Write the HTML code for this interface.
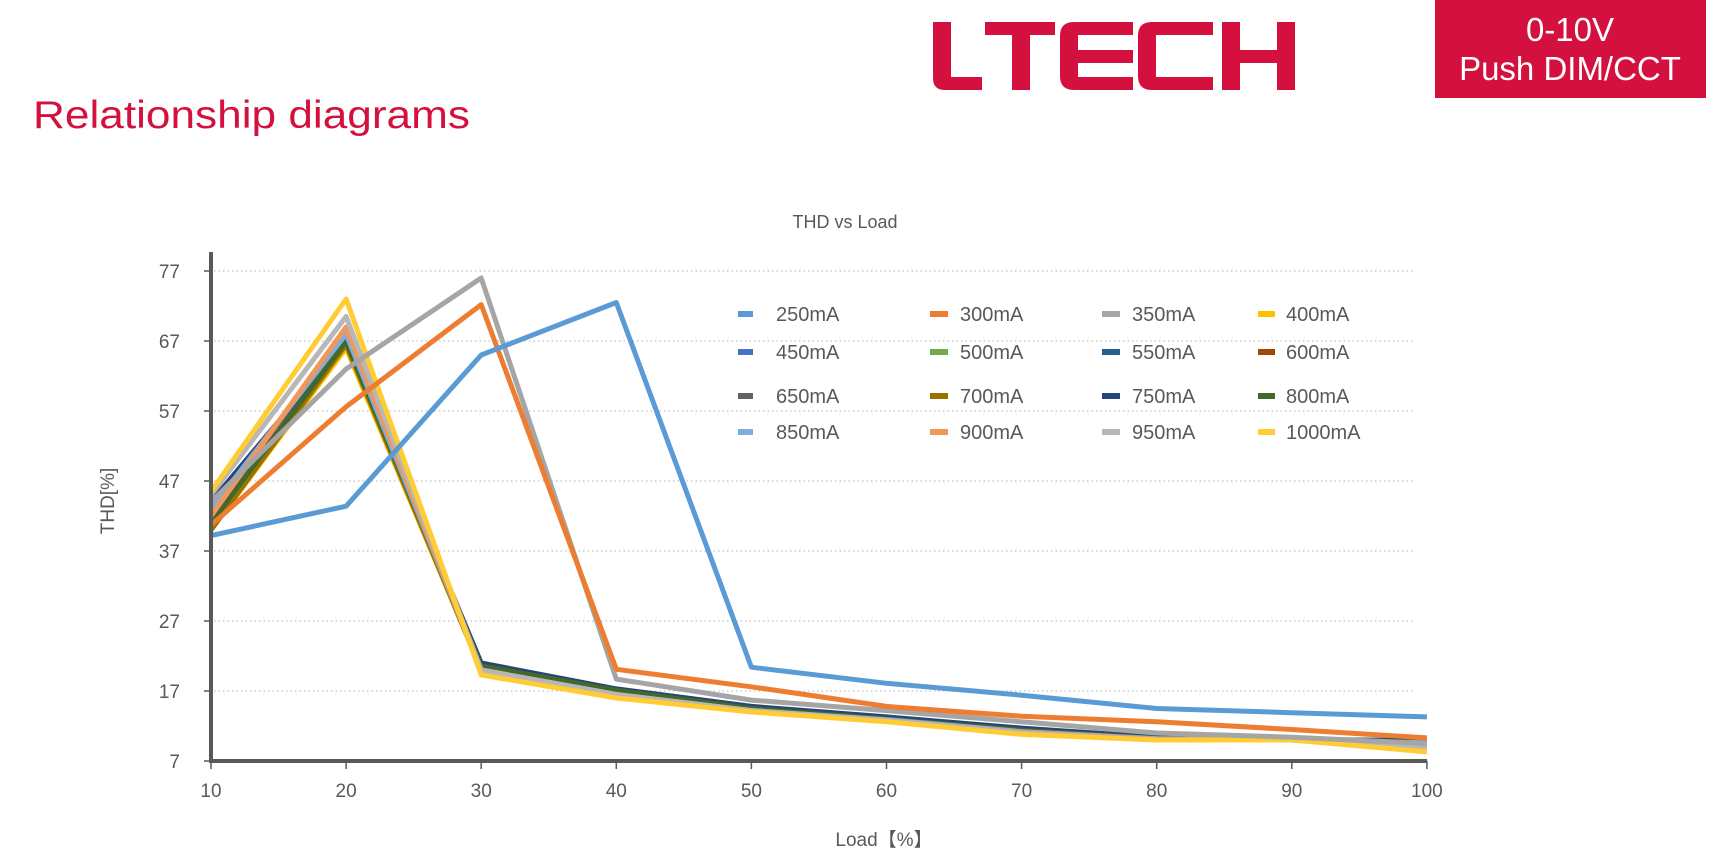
<!DOCTYPE html>
<html><head><meta charset="utf-8"><style>
html,body{margin:0;padding:0;background:#fff;}
body{width:1715px;height:860px;position:relative;overflow:hidden;font-family:"Liberation Sans",sans-serif;}
</style></head><body>
<svg width="1715" height="860" xmlns="http://www.w3.org/2000/svg" style="position:absolute;left:0;top:0">
<!-- LTECH logo -->
<g fill="#d4103e">
<path d="M933 22h18v55h31v13h-37q-12 0-12-12z"/>
<path d="M985 22h70v13h-25v55h-18v-55h-27z"/>
<path d="M1060 36q0-14 14-14h59v13h-55v15h55v13h-55v14h55v13h-59q-14 0-14-14z"/>
<path d="M1138 36q0-14 14-14h61v13h-57v42h57v13h-61q-14 0-14-14z"/>
<path d="M1222 22h18v28h37v-28h18v68h-18v-27h-37v27h-18z"/>
</g>
<rect x="1435" y="0" width="271" height="98" fill="#d4103e"/>
<text x="1570" y="41" font-size="33" fill="#fff" text-anchor="middle">0-10V</text>
<text x="1570" y="80" font-size="33" fill="#fff" text-anchor="middle">Push DIM/CCT</text>
<text x="33" y="128" font-size="39" fill="#d4103e" textLength="437" lengthAdjust="spacingAndGlyphs">Relationship diagrams</text>
<text x="845" y="228" font-size="18" fill="#595959" text-anchor="middle">THD vs Load</text>
<g id="grid"></g>
<g id="lines" fill="none" stroke-linejoin="round" stroke-width="5"></g>
<g id="axes"></g>
<g id="legend" font-size="20" fill="#595959"></g>
<text x="884" y="846" font-size="19" fill="#595959" text-anchor="middle">Load【%】</text>
<text transform="translate(114,501) rotate(-90)" font-size="19" fill="#595959" text-anchor="middle">THD[%]</text>
</svg>
<script>
var NS="http://www.w3.org/2000/svg";
function el(p,t,a,txt){var e=document.createElementNS(NS,t);for(var k in a)e.setAttribute(k,a[k]);if(txt!=null)e.textContent=txt;document.getElementById(p).appendChild(e);return e;}
function X(l){return 211+(l-10)*13.51;}
function Y(v){return 761-(v-7)*7.0;}
[7,17,27,37,47,57,67,77].forEach(function(v){
 if(v>7)el('grid','line',{x1:214,x2:1415,y1:Y(v),y2:Y(v),stroke:'#bfbfbf','stroke-width':1.3,'stroke-dasharray':'1.5 3'});
 el('axes','line',{x1:204,x2:211,y1:Y(v),y2:Y(v),stroke:'#595959','stroke-width':1.5});
 el('axes','text',{x:180,y:Y(v)+7,'font-size':19,fill:'#595959','text-anchor':'end'},String(v));
});
el('axes','line',{x1:211,x2:211,y1:252,y2:763,stroke:'#595959','stroke-width':4});
el('axes','line',{x1:209,x2:1427,y1:761,y2:761,stroke:'#595959','stroke-width':4});
for(var l=10;l<=100;l+=10){
 el('axes','line',{x1:X(l),x2:X(l),y1:761,y2:769,stroke:'#595959','stroke-width':1.5});
 el('axes','text',{x:X(l),y:797,'font-size':19,fill:'#595959','text-anchor':'middle'},String(l));
}
var S=[
["250mA","#5b9bd5",[39.2,43.4,65,72.5,20.4,18.1,16.4,14.5,13.9,13.3]],
["300mA","#ed7d31",[40.7,57.6,72.2,20.1,17.6,14.8,13.4,12.6,11.5,10.3]],
["350mA","#a5a5a5",[44,63,76,18.7,15.7,14.2,12.6,11,10.4,9.5]],
["400mA","#ffc000",[40,66,20,16.5,14.3,12.8,11,10.2,10.1,9]],
["450mA","#4472c4",[43,67,20.8,17,14.6,13.2,11.6,10.4,10,9.8]],
["500mA","#70ad47",[40.5,67.5,20.3,17,14.4,13,11.3,10.2,10,9.6]],
["550mA","#255e91",[42,67,20.5,17.2,14.7,13.1,11.6,10.4,10.1,9.9]],
["600mA","#9e480e",[41,68,20.2,16.8,14.3,13,11.2,10.2,10.1,9.8]],
["650mA","#636363",[42.5,67.8,20.5,17,14.5,13.1,11.5,10.3,10,9.7]],
["700mA","#997300",[40,66.5,20,16.8,14.3,12.9,11.1,10.1,10,9.6]],
["750mA","#264478",[44,67,21,17.3,14.8,13.3,11.7,10.4,10,9.9]],
["800mA","#43682b",[41,67,20.6,17.1,14.5,13,11.4,10.2,10,9.7]],
["850mA","#7cafdd",[43,68,20,16.5,14.2,12.9,11.2,10.2,10,9.6]],
["900mA","#f1975a",[42,69,20,16.5,14.2,12.8,11.1,10.1,10,9.3]],
["950mA","#b7b7b7",[45,70.5,20,16.5,14.2,12.8,11,10,10,9]],
["1000mA","#ffcd33",[45.5,73,19.3,16,14,12.6,10.8,10,10,8.3]]
];
var order=[3,4,5,6,7,8,9,10,11,12,13,14,15,2,1,0];
order.forEach(function(i){var s=S[i];var d=s[2].map(function(v,j){return (j?'L':'M')+X(10+10*j).toFixed(1)+' '+Y(v).toFixed(1);}).join(' ');
 el('lines','path',{d:d,stroke:s[1]});});
var cx=[738,930,1102,1258],ry=[314,352,396,432];
S.forEach(function(s,i){var c=i%4,r=Math.floor(i/4);
 el('legend','rect',{x:cx[c],y:ry[r]-3,width:c==0?15:c==3?17:18,height:6,fill:s[1]});
 el('legend','text',{x:cx[c]+(c==0?38:c==3?28:30),y:ry[r]+7},s[0]);
});
</script>
</body></html>
